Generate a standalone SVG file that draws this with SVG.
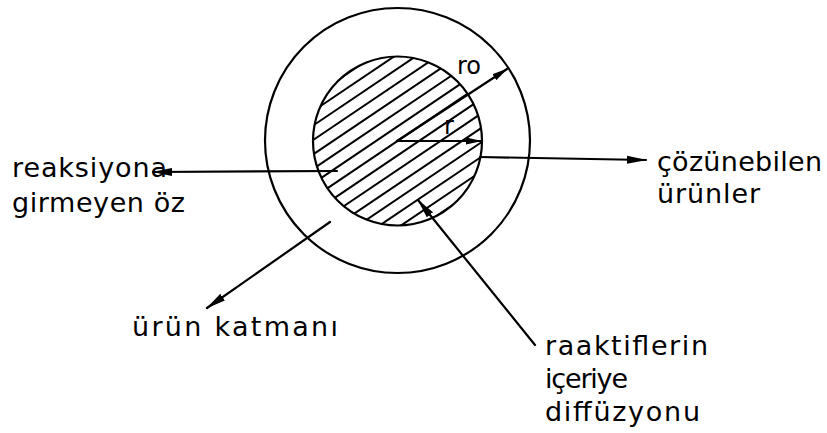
<svg xmlns="http://www.w3.org/2000/svg" width="827" height="433" viewBox="0 0 827 433">
  <style>
    .ln { stroke: #000; stroke-width: 2.2; fill: none; stroke-linecap: round; }
    .hatch { stroke: #000; stroke-width: 2; fill: none; }
    .lbl { font-family: "DejaVu Sans", "Liberation Sans", sans-serif; font-size: 27px; fill: #000; }
    .sym { font-family: "DejaVu Sans", "Liberation Sans", sans-serif; font-size: 24px; fill: #000; }
  </style>
  <defs>
    <marker id="ah" viewBox="0 0 20 9" refX="19" refY="4.5" markerWidth="20" markerHeight="9" markerUnits="userSpaceOnUse" orient="auto">
      <path d="M0,0.5 L20,4.5 L0,8.5 z" fill="#000"/>
    </marker>
    <marker id="ahs" viewBox="0 0 16 8" refX="15" refY="4" markerWidth="16" markerHeight="8" markerUnits="userSpaceOnUse" orient="auto">
      <path d="M0,0.5 L16,4 L0,7.5 z" fill="#000"/>
    </marker>
    <clipPath id="coreClip" clipPathUnits="userSpaceOnUse">
      <circle cx="397.5" cy="141" r="84.5"/>
    </clipPath>
  </defs>

  <g id="urun-katmani-ring">
    <circle class="ln" cx="397.5" cy="140.5" r="132.5"/>
  </g>

  <g id="core">
    <g clip-path="url(#coreClip)">
      <g transform="rotate(-34 397.5 141)" class="hatch">
        <line x1="290" y1="57" x2="505" y2="57"/>
        <line x1="290" y1="69" x2="505" y2="69"/>
        <line x1="290" y1="81" x2="505" y2="81"/>
        <line x1="290" y1="93" x2="505" y2="93"/>
        <line x1="290" y1="105" x2="505" y2="105"/>
        <line x1="290" y1="117" x2="505" y2="117"/>
        <line x1="290" y1="129" x2="505" y2="129"/>
        <line x1="290" y1="141" x2="505" y2="141"/>
        <line x1="290" y1="153" x2="505" y2="153"/>
        <line x1="290" y1="165" x2="505" y2="165"/>
        <line x1="290" y1="177" x2="505" y2="177"/>
        <line x1="290" y1="189" x2="505" y2="189"/>
        <line x1="290" y1="201" x2="505" y2="201"/>
        <line x1="290" y1="213" x2="505" y2="213"/>
        <line x1="290" y1="225" x2="505" y2="225"/>
      </g>
    </g>
    <circle class="ln" cx="397.5" cy="141" r="84.5"/>
  </g>

  <g id="connectors">
    <line class="ln" x1="397" y1="141" x2="507" y2="69" marker-end="url(#ahs)"/>
    <line class="ln" x1="397" y1="141" x2="481" y2="141" marker-end="url(#ahs)"/>
    <line class="ln" x1="337" y1="171" x2="153" y2="172" marker-end="url(#ah)"/>
    <line class="ln" x1="480" y1="157" x2="646" y2="160" marker-end="url(#ah)"/>
    <line class="ln" x1="330" y1="222" x2="207" y2="308" marker-end="url(#ah)"/>
    <line class="ln" x1="535" y1="345" x2="418" y2="200" marker-end="url(#ah)"/>
  </g>

  <g id="radius-labels">
    <text class="sym" x="457" y="74">ro</text>
    <text class="sym" x="444" y="134">r</text>
  </g>

  <g id="label-oz">
    <text class="lbl" x="12" y="177" textLength="155" lengthAdjust="spacing">reaksiyona</text>
    <text class="lbl" x="12" y="212" textLength="173" lengthAdjust="spacing">girmeyen öz</text>
  </g>

  <g id="label-cozunebilen">
    <text class="lbl" x="657" y="171" textLength="165" lengthAdjust="spacing">çözünebilen</text>
    <text class="lbl" x="657" y="203" textLength="103" lengthAdjust="spacing">ürünler</text>
  </g>

  <g id="label-katman">
    <text class="lbl" x="132" y="336" textLength="206" lengthAdjust="spacing">ürün katmanı</text>
  </g>

  <g id="label-diffuzyon">
    <text class="lbl" x="545" y="355" textLength="163" lengthAdjust="spacing">raaktiflerin</text>
    <text class="lbl" x="545" y="388" textLength="83" lengthAdjust="spacing">içeriye</text>
    <text class="lbl" x="545" y="421" textLength="155" lengthAdjust="spacing">diffüzyonu</text>
  </g>
</svg>
